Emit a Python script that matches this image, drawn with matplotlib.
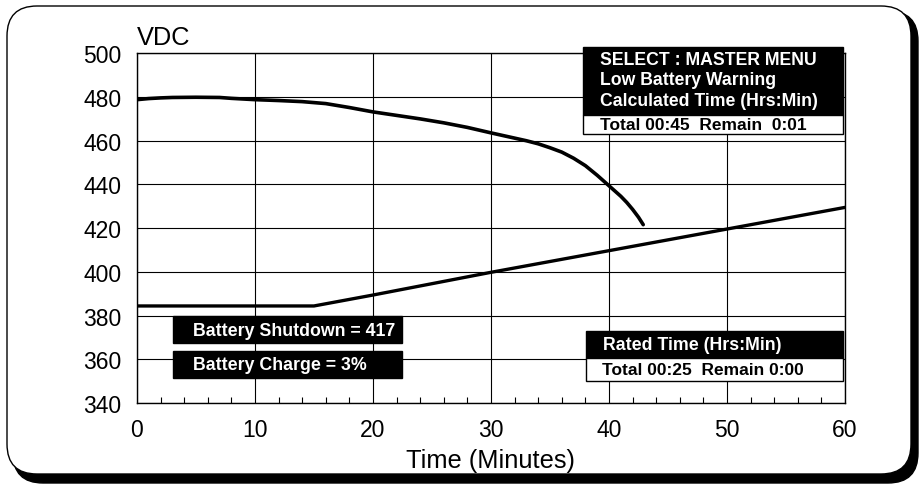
import matplotlib.pyplot as plt
from matplotlib.patches import FancyBboxPatch, Rectangle

plt.rcParams['font.family'] = ['Liberation Sans', 'DejaVu Sans']

# upper curve (VDC while discharging)
t_upper = [0, 1, 2, 3, 5, 7, 8, 10, 12, 14, 16, 18, 20, 22, 24, 26, 28, 30,
           32, 33, 34, 35, 36, 37, 38, 39, 40, 41, 41.5, 42, 42.5, 42.9]
v_upper = [478.8, 479.3, 479.6, 479.8, 479.9, 479.8, 479.4, 478.8, 478.4, 477.9,
           477.0, 475.2, 473.2, 471.6, 470.0, 468.2, 466.1, 463.6, 461.2, 460.0,
           458.6, 456.8, 454.8, 452.0, 448.6, 444.2, 439.4, 434.6, 431.8, 428.6,
           425.0, 421.6]

# lower curve
t_lower = [0, 15, 20, 30, 40, 50, 60]
v_lower = [384.4, 384.4, 389.4, 399.8, 409.7, 419.6, 429.5]

x_ticks = [0, 10, 20, 30, 40, 50, 60]
y_ticks = [340, 360, 380, 400, 420, 440, 460, 480, 500]

fig = plt.figure(figsize=(9.19, 4.85), dpi=100)

# rounded frame with shadow (display pixels)
shadow = FancyBboxPatch((13, 1), 905, 472, boxstyle="round,pad=0,rounding_size=30",
                        transform=None, facecolor='black', edgecolor='black', zorder=0)
frame = FancyBboxPatch((7, 10), 904, 468, boxstyle="round,pad=0,rounding_size=30",
                       transform=None, facecolor='white', edgecolor='black', lw=1, zorder=1)
fig.patches.extend([shadow, frame])

ax = fig.add_axes([0.149, 0.167, 0.7705, 0.721])
ax.set_facecolor('none')
ax.set_zorder(2)

ax.plot(t_upper, v_upper, color='black', lw=2.6, solid_capstyle='round', zorder=3)
ax.plot(t_lower, v_lower, color='black', lw=2.4, solid_capstyle='round', zorder=3)

ax.set_xlim(0, 60)
ax.set_ylim(340, 500)
ax.set_xticks(x_ticks)
ax.set_yticks(y_ticks)
ax.set_xticks(range(0, 61, 2), minor=True)
ax.grid(True, which='major', color='black', lw=0.8)
ax.tick_params(axis='x', which='minor', direction='in', length=4, width=0.8, top=False)
ax.tick_params(axis='x', which='major', length=0, pad=11, labelsize=16.5)
ax.tick_params(axis='y', length=0, pad=11, labelsize=16.5)
for s in ax.spines.values():
    s.set_linewidth(1)

ax.text(0, 1.026, "VDC", transform=ax.transAxes, fontsize=18.3, va='baseline', ha='left')
ax.set_xlabel("Time (Minutes)", fontsize=18.3, labelpad=5)

# info boxes
def box(x0, x1, y0, y1, fc):
    ax.add_patch(Rectangle((x0, y0), x1 - x0, y1 - y0, facecolor=fc, edgecolor='black',
                           lw=1, clip_on=False, zorder=4))

box(37.8, 59.8, 471.8, 502.9, 'black')
box(37.8, 59.8, 463.1, 471.8, 'white')
ax.text(39.2, 497.0, "SELECT : MASTER MENU", color='white', fontsize=12.7, fontweight='bold', va='center', zorder=5)
ax.text(39.2, 487.8, "Low Battery Warning", color='white', fontsize=12.7, fontweight='bold', va='center', zorder=5)
ax.text(39.2, 478.6, "Calculated Time (Hrs:Min)", color='white', fontsize=12.7, fontweight='bold', va='center', zorder=5)
ax.text(39.2, 467.3, "Total 00:45  Remain  0:01", color='black', fontsize=12.5, fontweight='bold', va='center', zorder=5)

box(3.05, 22.5, 367.4, 379.8, 'black')
box(3.05, 22.5, 351.4, 363.8, 'black')
ax.text(4.75, 373.4, "Battery Shutdown = 417", color='white', fontsize=12.8, fontweight='bold', va='center', zorder=5)
ax.text(4.75, 357.4, "Battery Charge = 3%", color='white', fontsize=12.8, fontweight='bold', va='center', zorder=5)

box(38.05, 59.8, 360.5, 372.9, 'black')
box(38.05, 59.8, 350.0, 360.5, 'white')
ax.text(39.5, 366.6, "Rated Time (Hrs:Min)", color='white', fontsize=12.8, fontweight='bold', va='center', zorder=5)
ax.text(39.4, 355.2, "Total 00:25  Remain 0:00", color='black', fontsize=12.5, fontweight='bold', va='center', zorder=5)

fig.savefig("out.png", dpi=100)
